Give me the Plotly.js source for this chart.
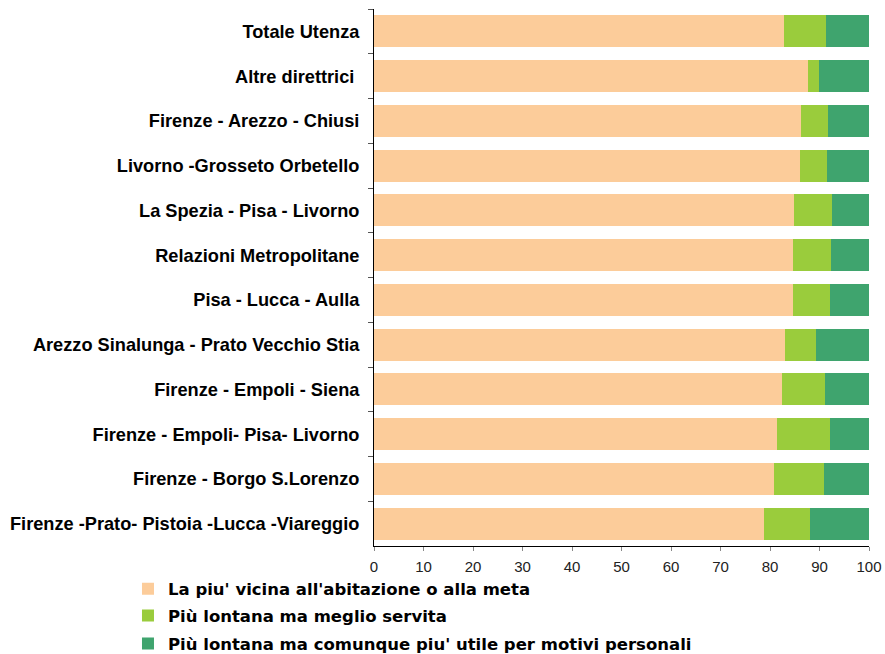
<!DOCTYPE html>
<html>
<head>
<meta charset="utf-8">
<script src="https://cdn.plot.ly/plotly-3.0.1.min.js"></script>
<style>html,body{margin:0;padding:0;background:#fff;}#chart{width:885px;height:654px;}</style>
</head>
<body>
<div id="chart"></div>
<script>
const categories = [
  "Totale Utenza",
  "Altre direttrici ",
  "Firenze - Arezzo - Chiusi",
  "Livorno -Grosseto Orbetello",
  "La Spezia - Pisa - Livorno",
  "Relazioni Metropolitane",
  "Pisa - Lucca - Aulla",
  "Arezzo Sinalunga - Prato Vecchio Stia",
  "Firenze - Empoli - Siena",
  "Firenze - Empoli- Pisa- Livorno",
  "Firenze - Borgo S.Lorenzo",
  "Firenze -Prato- Pistoia -Lucca -Viareggio"
];
const seriesNames = [
  "La piu' vicina all'abitazione o alla meta",
  "Più lontana ma meglio servita",
  "Più lontana ma comunque piu' utile per motivi personali"
];
const vicina   = [82.8, 87.7, 86.3, 86.1, 84.8, 84.6, 84.6, 83.0, 82.4, 81.5, 80.9, 78.7];
const servita  = [ 8.5,  2.1,  5.4,  5.4,  7.7,  7.8,  7.6,  6.3,  8.7, 10.7, 10.1,  9.4];
const utile    = [ 8.7, 10.2,  8.3,  8.5,  7.5,  7.6,  7.8, 10.7,  8.9,  7.8,  9.0, 11.9];
const xTicks = [0, 10, 20, 30, 40, 50, 60, 70, 80, 90, 100];

const colors = ["#FCCC9A", "#9ACC3C", "#3FA46E"];
const values = [vicina, servita, utile];
const legendIds = ["legend", "legend2", "legend3"];

const traces = values.map((v, i) => ({
  type: "bar",
  orientation: "h",
  y: categories,
  x: v,
  name: seriesNames[i],
  legend: legendIds[i],
  marker: {color: colors[i], line: {width: 0}},
  hoverinfo: "x+y+name"
}));

const legendFont = {size: 16.5, family: "DejaVu Sans, Verdana, sans-serif", color: "#000", weight: 700};
function legendAt(yPaper) {
  return {
    orientation: "v",
    x: -0.497,
    xanchor: "left",
    y: yPaper,
    yanchor: "middle",
    itemwidth: 30,
    font: legendFont,
    bgcolor: "rgba(0,0,0,0)"
  };
}

const layout = {
  width: 885,
  height: 654,
  barmode: "stack",
  bargap: 0.29,
  paper_bgcolor: "#fff",
  plot_bgcolor: "#fff",
  margin: {l: 374, r: 16, t: 9, b: 108, autoexpand: false},
  font: {family: "Liberation Sans, Arial, sans-serif", color: "#000"},
  xaxis: {
    range: [0, 100],
    tickvals: xTicks,
    ticktext: xTicks.map(String),
    showgrid: false,
    zeroline: false,
    showline: true,
    linecolor: "#000",
    linewidth: 1,
    ticks: "outside",
    ticklen: 4,
    tickcolor: "#888",
    ticklabelstandoff: 3,
    tickfont: {size: 15, color: "#222", family: "Liberation Sans, Arial, sans-serif"},
    fixedrange: true
  },
  yaxis: {
    type: "category",
    categoryorder: "array",
    categoryarray: categories,
    autorange: "reversed",
    showgrid: false,
    zeroline: false,
    showline: true,
    linecolor: "#000",
    linewidth: 1,
    ticks: "outside",
    tickson: "boundaries",
    ticklen: 5,
    tickcolor: "#555",
    ticklabelstandoff: 10,
    tickfont: {size: 18.2, color: "#000", family: "Liberation Sans, Arial, sans-serif", weight: 700},
    fixedrange: true
  },
  showlegend: true,
  legend: legendAt(-0.080),
  legend2: legendAt(-0.130),
  legend3: legendAt(-0.182)
};

Plotly.newPlot("chart", traces, layout, {displayModeBar: false, staticPlot: true});
</script>
</body>
</html>
